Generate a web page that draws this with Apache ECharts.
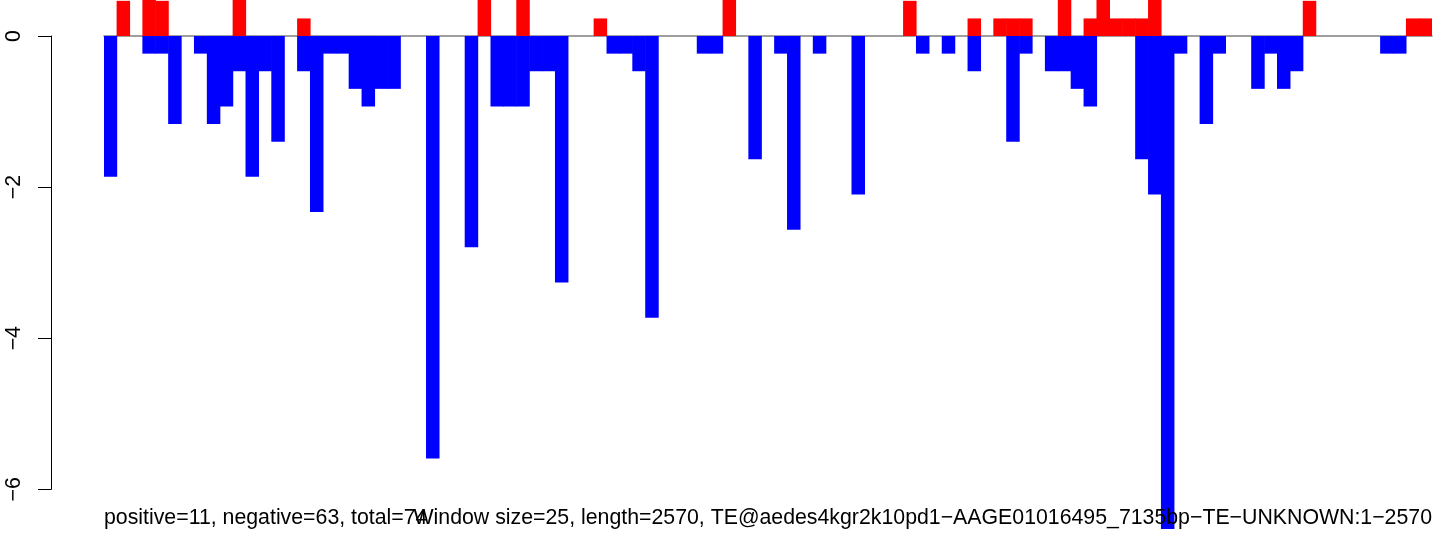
<!DOCTYPE html>
<html><head><meta charset="utf-8">
<script src="https://cdn.jsdelivr.net/npm/echarts@6/dist/echarts.min.js"></script>
<style>html,body{margin:0;padding:0;background:#fff}#c{width:1444px;height:550px}</style>
</head><body><div id="c"></div>
<script>
// values per 25-bp window (103 windows over 2570 bp)
const posValues = [
  0, 0.466, 0, 0.477, 0.466, 0, 0, 0, 0, 0,
  0.477, 0, 0, 0, 0, 0.233, 0, 0, 0, 0,
  0, 0, 0, 0, 0, 0, 0, 0, 0, 0.477,
  0, 0, 0.477, 0, 0, 0, 0, 0, 0.233, 0,
  0, 0, 0, 0, 0, 0, 0, 0, 0.477, 0,
  0, 0, 0, 0, 0, 0, 0, 0, 0, 0,
  0, 0, 0.466, 0, 0, 0, 0, 0.233, 0, 0.233,
  0.233, 0.233, 0, 0, 0.477, 0, 0.233, 0.477, 0.233, 0.233,
  0.233, 0.477, 0, 0, 0, 0, 0, 0, 0, 0,
  0, 0, 0, 0.466, 0, 0, 0, 0, 0, 0,
  0, 0.233, 0.233
];
const negValues = [
  -1.864, 0, 0, -0.233, -0.233, -1.165, 0, -0.233, -1.165, -0.932,
  -0.466, -1.864, -0.466, -1.398, 0, -0.466, -2.33, -0.233, -0.233, -0.699,
  -0.932, -0.699, -0.699, 0, 0, -5.592, 0, 0, -2.796, 0,
  -0.932, -0.932, -0.932, -0.466, -0.466, -3.262, 0, 0, 0, -0.233,
  -0.233, -0.466, -3.728, 0, 0, 0, -0.233, -0.233, 0, 0,
  -1.631, 0, -0.233, -2.563, 0, -0.233, 0, 0, -2.097, 0,
  0, 0, 0, -0.233, 0, -0.233, 0, -0.466, 0, 0,
  -1.398, -0.233, 0, -0.466, -0.466, -0.699, -0.932, 0, 0, 0,
  -1.631, -2.097, -6.524, -0.233, 0, -1.165, -0.233, 0, 0, -0.699,
  -0.233, -0.699, -0.466, 0, 0, 0, 0, 0, 0, -0.233,
  -0.233, 0, 0
];
const yTicks = [0, -2, -4, -6];
const leftNote = 'positive=11, negative=63, total=74';
const rightNote = 'Window size=25, length=2570, TE@aedes4kgr2k10pd1\u2212AAGE01016495_7135bp\u2212TE\u2212UNKNOWN:1\u22122570';

const categories = posValues.map((_, i) => String(i + 1));
const yMin = Math.min(...negValues), yMax = Math.max(...posValues);
const asBar = v => (v === 0 ? '-' : v);
const font = '"Liberation Sans", Arial, Helvetica, sans-serif';
const fs = 21.3;

const chart = echarts.init(document.getElementById('c'), null, {renderer: 'canvas'});
chart.setOption({
  animation: false,
  backgroundColor: '#ffffff',
  title: [
    {text: leftNote, left: 104, top: 508, padding: 0,
     textStyle: {fontFamily: font, fontSize: fs, fontWeight: 'normal', color: '#000'}},
    {text: rightNote, right: 12, top: 508, padding: 0,
     textStyle: {fontFamily: font, fontSize: fs, fontWeight: 'normal', color: '#000'}}
  ],
  grid: [
    {left: 104, right: 12, top: 0, bottom: 21.1},
    {left: 51, width: 1, top: 36, bottom: 60.7}
  ],
  xAxis: [
    {type: 'category', gridIndex: 0, data: categories,
     axisLine: {show: true, onZero: true, lineStyle: {color: '#808080', width: 1.5}},
     axisTick: {show: false}, axisLabel: {show: false}, splitLine: {show: false}},
    {type: 'value', gridIndex: 1, show: false}
  ],
  yAxis: [
    {type: 'value', gridIndex: 0, min: yMin, max: yMax, show: false, splitLine: {show: false}},
    {type: 'value', gridIndex: 1, min: Math.min(...yTicks), max: Math.max(...yTicks), interval: 2,
     axisLine: {show: true, lineStyle: {color: '#000', width: 1}},
     axisTick: {show: true, length: 13, inside: false, lineStyle: {color: '#000', width: 1}},
     splitLine: {show: false},
     axisLabel: {show: true, rotate: 90, margin: 26, fontFamily: font, fontSize: fs, color: '#000',
       formatter: v => String(v).replace('-', '\u2212')}}
  ],
  series: [
    {type: 'bar', xAxisIndex: 0, yAxisIndex: 0, data: posValues.map(asBar),
     barWidth: 13.5, barGap: '-100%', silent: true,
     itemStyle: {color: '#ff0000'}},
    {type: 'bar', xAxisIndex: 0, yAxisIndex: 0, data: negValues.map(asBar),
     barWidth: 13.5, barGap: '-100%', silent: true,
     itemStyle: {color: '#0000ff'}}
  ]
});
</script></body></html>
